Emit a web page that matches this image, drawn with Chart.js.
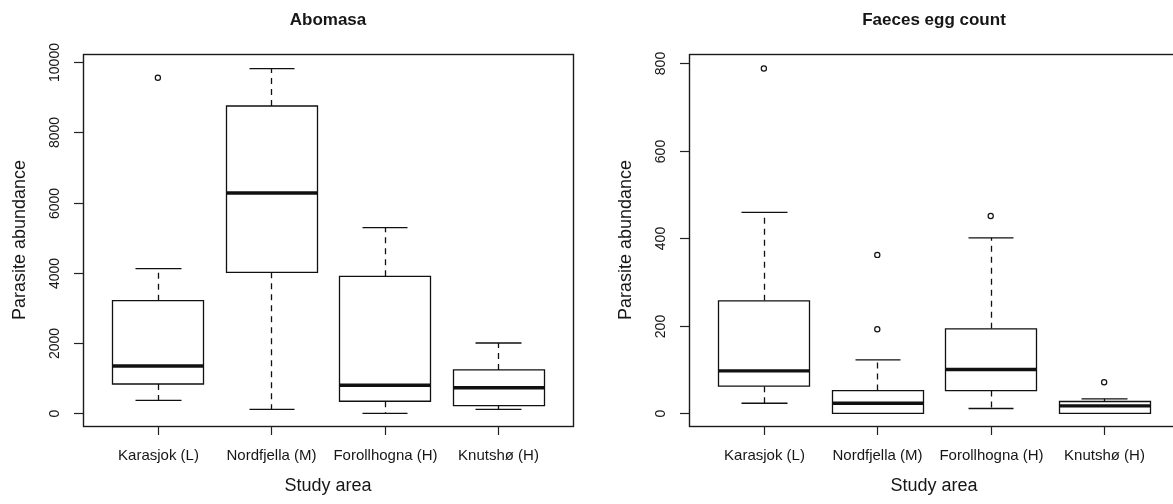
<!DOCTYPE html>
<html><head><meta charset="utf-8">
<script src="https://cdn.jsdelivr.net/npm/chart.js@4/dist/chart.umd.min.js"></script>
<style>
html,body{margin:0;padding:0;background:#fff;overflow:hidden;width:1173px;height:504px;}
#wrap{position:relative;width:1173px;height:504px;overflow:hidden;background:#fff;}
canvas{position:absolute;top:0;}
#c1{left:0}
#c2{left:586px}
</style></head><body>
<div id="wrap"><canvas id="c1" width="586" height="504"></canvas><canvas id="c2" width="606" height="504"></canvas></div>
<script>
// ---- data ----
const categories = ['Karasjok (L)', 'Nordfjella (M)', 'Forollhogna (H)', 'Knutshø (H)'];

const abomasaLower  = [370, 114, 0, 114];
const abomasaQ1     = [834, 4014, 342, 216];
const abomasaMedian = [1346, 6271, 797, 729];
const abomasaQ3     = [3205, 8748, 3900, 1233];
const abomasaUpper  = [4117, 9810, 5283, 2001];
const abomasaOutliers = [[9553], [], [], []];
const abomasaTicks  = [0, 2000, 4000, 6000, 8000, 10000];

const faecesLower  = [23, 0, 11, 0];
const faecesQ1     = [62, 0, 52, 0];
const faecesMedian = [97, 23, 100, 17];
const faecesQ3     = [257, 52, 193, 27];
const faecesUpper  = [459, 122, 401, 33];
const faecesOutliers = [[788], [362, 192], [451], [71]];
const faecesTicks  = [0, 200, 400, 600, 800];

// ---- helpers ----
const FONT = '"Liberation Sans", Arial, sans-serif';
const INK = '#161616';

function rBoxPlugin(spec) {
  return {
    id: 'rbox',
    afterDatasetsDraw(chart) {
      const ctx = chart.ctx, xs = chart.scales.x, ys = chart.scales.y;
      const bw = 0.4, cw = 0.2;
      ctx.save();
      ctx.strokeStyle = '#111';
      for (let i = 0; i < spec.categories.length; i++) {
        const c = i + 1;
        const xl = Math.round(xs.getPixelForValue(c - bw)) + 0.5;
        const xr = Math.round(xs.getPixelForValue(c + bw)) + 0.5;
        const xc = Math.round(xs.getPixelForValue(c)) + 0.5;
        const cl = Math.round(xs.getPixelForValue(c - cw)) + 0.5;
        const cr = Math.round(xs.getPixelForValue(c + cw)) + 0.5;
        const yLo = ys.getPixelForValue(spec.lower[i]);
        const yQ1 = ys.getPixelForValue(spec.q1[i]);
        const yMd = ys.getPixelForValue(spec.median[i]);
        const yQ3 = ys.getPixelForValue(spec.q3[i]);
        const yUp = ys.getPixelForValue(spec.upper[i]);
        // whiskers (dashed)
        ctx.lineWidth = 1.3;
        ctx.setLineDash([6, 5]);
        ctx.beginPath();
        ctx.moveTo(xc, yQ3); ctx.lineTo(xc, yUp);
        ctx.moveTo(xc, yQ1); ctx.lineTo(xc, yLo);
        ctx.stroke();
        ctx.setLineDash([]);
        // caps
        ctx.beginPath();
        ctx.moveTo(cl, yUp); ctx.lineTo(cr, yUp);
        ctx.moveTo(cl, yLo); ctx.lineTo(cr, yLo);
        ctx.stroke();
        // box
        ctx.lineWidth = 1.3;
        ctx.fillStyle = '#fff';
        ctx.beginPath();
        ctx.rect(xl, yQ3, xr - xl, yQ1 - yQ3);
        ctx.fill();
        ctx.stroke();
        // median
        ctx.lineWidth = 3.4;
        ctx.beginPath();
        ctx.moveTo(xl, yMd); ctx.lineTo(xr, yMd);
        ctx.stroke();
      }
      ctx.restore();
    },
    afterDraw(chart) {
      const ctx = chart.ctx, xs = chart.scales.x, ys = chart.scales.y;
      const a = chart.chartArea;
      ctx.save();
      // frame
      ctx.strokeStyle = '#1a1a1a';
      ctx.lineWidth = 1.4;
      ctx.strokeRect(Math.round(a.left) + 0.5, Math.round(a.top) + 0.5,
                     Math.round(a.right - a.left), Math.round(a.bottom - a.top));
      // y ticks
      ctx.lineWidth = 1.2;
      ctx.strokeStyle = '#222';
      ctx.fillStyle = INK;
      ctx.font = '14px ' + FONT;
      ctx.textAlign = 'center';
      ctx.textBaseline = 'middle';
      for (const t of spec.ticks) {
        const y = Math.round(ys.getPixelForValue(t)) + 0.5;
        ctx.beginPath();
        ctx.moveTo(a.left, y); ctx.lineTo(a.left - 9, y);
        ctx.stroke();
        ctx.save();
        ctx.translate(a.left - 28, y);
        ctx.rotate(-Math.PI / 2);
        ctx.fillText(String(t), 0, 0);
        ctx.restore();
      }
      // x ticks
      ctx.font = '15px ' + FONT;
      ctx.textBaseline = 'alphabetic';
      spec.categories.forEach((lab, i) => {
        const x = Math.round(xs.getPixelForValue(i + 1)) + 0.5;
        ctx.beginPath();
        ctx.moveTo(x, a.bottom); ctx.lineTo(x, a.bottom + 9);
        ctx.stroke();
        ctx.fillText(lab, x, a.bottom + 34);
      });
      // axis titles
      const cx = (a.left + a.right) / 2;
      ctx.font = '18px ' + FONT;
      ctx.fillText('Study area', cx, a.bottom + 65);
      ctx.save();
      ctx.translate(a.left - 63, (a.top + a.bottom) / 2);
      ctx.rotate(-Math.PI / 2);
      ctx.textBaseline = 'middle';
      ctx.fillText('Parasite abundance', 0, 0);
      ctx.restore();
      // main title
      ctx.font = 'bold 17px ' + FONT;
      ctx.fillText(spec.title, cx, 25);
      ctx.restore();
    }
  };
}

function makeChart(id, spec) {
  const pts = [];
  spec.outliers.forEach((arr, i) => arr.forEach(v => pts.push({ x: i + 1, y: v })));
  return new Chart(document.getElementById(id), {
    type: 'scatter',
    data: {
      datasets: [{
        data: pts,
        pointStyle: 'circle',
        pointRadius: 2.6,
        pointBorderWidth: 1.2,
        pointBackgroundColor: 'rgba(0,0,0,0)',
        pointBorderColor: '#111',
        showLine: false
      }]
    },
    options: {
      responsive: false,
      animation: false,
      events: [],
      layout: { padding: spec.padding },
      plugins: { legend: { display: false }, tooltip: { enabled: false }, title: { display: false } },
      scales: {
        x: { type: 'linear', display: false, min: 0.34, max: 4.66 },
        y: { type: 'linear', display: false, min: spec.yMin, max: spec.yMax }
      }
    },
    plugins: [rBoxPlugin(spec)]
  });
}

makeChart('c1', {
  title: 'Abomasa', categories,
  lower: abomasaLower, q1: abomasaQ1, median: abomasaMedian, q3: abomasaQ3, upper: abomasaUpper,
  outliers: abomasaOutliers, ticks: abomasaTicks,
  yMin: -362, yMax: 10228,
  padding: { left: 83, right: 13, top: 54, bottom: 78 }
});

makeChart('c2', {
  title: 'Faeces egg count', categories,
  lower: faecesLower, q1: faecesQ1, median: faecesMedian, q3: faecesQ3, upper: faecesUpper,
  outliers: faecesOutliers, ticks: faecesTicks,
  yMin: -29, yMax: 821,
  padding: { left: 103, right: 13, top: 54, bottom: 78 }
});
</script>
</body></html>
